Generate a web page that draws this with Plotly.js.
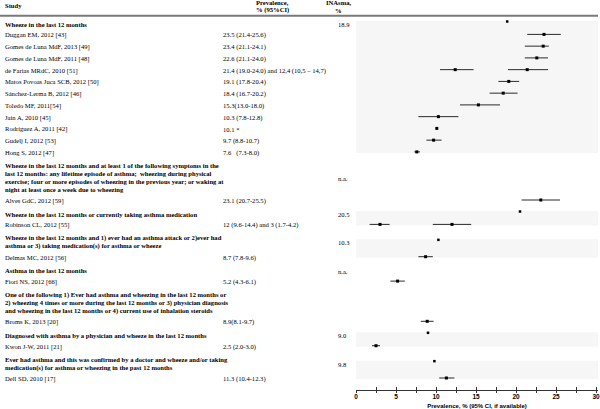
<!DOCTYPE html>
<html><head><meta charset="utf-8">
<script src="https://cdn.plot.ly/plotly-3.0.1.min.js"></script>
<style>html,body{margin:0;padding:0;background:#fff}#chart{width:600px;height:409px}</style>
</head><body><div id="chart"></div>
<script>
// ---------------- DATA ----------------
const sectionTitles = [
  ["Wheeze in the last 12 months"],
  ["Wheeze in the last 12 months and at least 1 of the following symptoms in the",
   "last 12 months: any lifetime episode of asthma;\u00a0 wheezing during physical",
   "exercise; four or more episodes of wheezing in the previous year; or waking at",
   "night at least once a week due to wheezing"],
  ["Wheeze in the last 12 months or currently taking asthma medication"],
  ["Wheeze in the last 12 months and 1) ever had an asthma attack or 2)ever had",
   "asthma or 3) taking medication(s) for asthma or wheeze"],
  ["Asthma in the last 12 months"],
  ["One of the following 1) Ever had asthma and wheezing in the last 12 months or",
   "2) wheezing 4 times or more during the last 12 months or 3) physician diagnosis",
   "and wheezing in the last 12 months or 4) current use of inhalation steroids"],
  ["Diagnosed with asthma by a physician and wheeze in the last 12 months"],
  ["Ever had asthma and this was confirmed by a doctor and wheeze and/or taking",
   "medication(s) for asthma or wheezing in the past 12 months"]
];
const inasmaText  = ["18.9", "n.a.", "20.5", "10.3", "n.a.", "", "9.0", "9.8"];
const inasmaValue = [18.9, null, 20.5, 10.3, null, null, 9.0, 9.8];

const studySection = [0,0,0,0,0,0,0,0,0,0,0,1,2,3,4,5,6,7];
const studies = [
  "Duggan EM, 2012 [43]", "Gomes de Luna MdF, 2013 [49]", "Gomes de Luna MdF, 2011 [48]",
  "de Farias MRdC, 2010 [51]", "Matos Povoas Juca SCB, 2012 [50]", "Sánchez-Lerma B, 2012 [46]",
  "Toledo MF, 2011[54]", "Jain A, 2010 [45]", "Rodriguez A, 2011 [42]", "Gudelj I, 2012 [53]",
  "Hong S, 2012 [47]", "Alves GdC, 2012 [59]", "Robinson CL, 2012 [55]", "Delmas MC, 2012 [56]",
  "Fiori NS, 2012 [66]", "Broms K, 2013 [20]", "Kwon J-W, 2011 [21]", "Dell SD, 2010 [17]"
];
const prevalenceText = [
  "23.5 (21.4-25.6)", "23.4 (21.1-24.1)", "22.6 (21.1-24.0)",
  "21.4 (19.0-24.0) and 12,4 (10,5 \u2013 14,7)", "19.1 (17.8-20.4)", "18.4 (16.7-20.2)",
  "15.3(13.0-18.0)", "10.3 (7.8-12.8)", "10.1 *", "9.7 (8.8-10.7)",
  "7.6\u00a0\u00a0\u00a0(7.3-8.0)", "23.1 (20.7-25.5)", "12 (9.6-14.4) and 3 (1.7-4.2)",
  "8.7 (7.8-9.6)", "5.2 (4.3-6.1)", "8.9(8.1-9.7)", "2.5 (2.0-3.0)", "11.3 (10.4-12.3)"
];
const estimate = [23.5, 23.4, 22.6, 21.4, 19.1, 18.4, 15.3, 10.3, 10.1, 9.7, 7.6, 23.1, 12, 8.7, 5.2, 8.9, 2.5, 11.3];
const ciLow    = [21.4, 21.1, 21.1, 19.0, 17.8, 16.7, 13.0, 7.8, null, 8.8, 7.3, 20.7, 9.6, 7.8, 4.3, 8.1, 2.0, 10.4];
const ciHigh   = [25.6, 24.1, 24.0, 24.0, 20.4, 20.2, 18.0, 12.8, null, 10.7, 8.0, 25.5, 14.4, 9.6, 6.1, 9.7, 3.0, 12.3];
const estimate2 = [null,null,null,12.4,null,null,null,null,null,null,null,null,3,null,null,null,null,null];
const ciLow2    = [null,null,null,10.5,null,null,null,null,null,null,null,null,1.7,null,null,null,null,null];
const ciHigh2   = [null,null,null,14.7,null,null,null,null,null,null,null,null,4.2,null,null,null,null,null];
const xTicks = [0, 2.5, 5, 7.5, 10, 12.5, 15, 17.5, 20, 22.5, 25, 27.5, 30];
const xTickLabels = ["0","","5","","10","","15","","20","","25","","30"];

// ---------------- LAYOUT GEOMETRY ----------------
const W = 600, H = 409, AXIS_PX = 390, X0 = 356, X1 = 598, XMAX = 30.25;
const FIRST = 24, LINE = 7.9, GAP_HS = 11.4, ROW = 11.75, GAP_SH = 13;
const px2py = p => 1 - p / H;
const px2px = p => p / W;

const headerY = [], inasmaTextY = [], inasmaPtY = [], studyY = new Array(studies.length), bands = [];
let y = FIRST;
sectionTitles.forEach((lines, s) => {
  const ys = lines.map((_, i) => y + i * LINE);
  headerY.push(ys);
  const c = (ys[0] + ys[ys.length - 1]) / 2;
  inasmaTextY.push(c + 0.5);
  inasmaPtY.push(c - 2.5);
  y = ys[ys.length - 1] + GAP_HS;
  let last = y;
  studySection.forEach((sec, i) => { if (sec === s) { studyY[i] = y; last = y; y += ROW; } });
  if (inasmaValue[s] !== null) bands.push([c - 3, last]);
  y = last + GAP_SH;
});
const pointY = studyY.map(v => v - 1);

// ---------------- TRACES ----------------
const serif = "Liberation Serif, Times New Roman, serif";
const traces = [];
traces.push({
  type: "scatter", mode: "markers", x: estimate, y: pointY,
  marker: {symbol: "square", size: 3, color: "#000"},
  error_x: {type: "data", symmetric: false,
    array: estimate.map((e, i) => ciHigh[i] == null ? 0 : ciHigh[i] - e),
    arrayminus: estimate.map((e, i) => ciLow[i] == null ? 0 : e - ciLow[i]),
    width: 0, thickness: 1, color: "#2a2a2a"},
  showlegend: false
});
const idx2 = estimate2.map((v, i) => v == null ? -1 : i).filter(i => i >= 0);
traces.push({
  type: "scatter", mode: "markers", x: idx2.map(i => estimate2[i]), y: idx2.map(i => pointY[i]),
  marker: {symbol: "square", size: 3, color: "#000"},
  error_x: {type: "data", symmetric: false,
    array: idx2.map(i => ciHigh2[i] - estimate2[i]),
    arrayminus: idx2.map(i => estimate2[i] - ciLow2[i]),
    width: 0, thickness: 1, color: "#2a2a2a"},
  showlegend: false
});
const idxI = inasmaValue.map((v, i) => v == null ? -1 : i).filter(i => i >= 0);
traces.push({
  type: "scatter", mode: "markers", x: idxI.map(i => inasmaValue[i]), y: idxI.map(i => inasmaPtY[i]),
  marker: {symbol: "square", size: 2.5, color: "#000"}, showlegend: false
});
traces.push({type: "scatter", x: [null], y: [null], xaxis: "x2", yaxis: "y", showlegend: false});

// ---------------- ANNOTATIONS ----------------
const ann = [];
const txt = (text, xp, yp, align) => ann.push({
  text, xref: "paper", yref: "paper", x: px2px(xp), y: px2py(yp),
  xanchor: align, yanchor: "middle", showarrow: false,
  font: {family: serif, size: 6.6, color: "#000"}
});
txt("<b>Study</b>", 3, 6, "left");
txt("<b>Prevalence,</b>", 272, 3, "center");
txt("<b>% (95%CI)</b>", 272, 10, "center");
txt("<b>INAsma,</b>", 339, 3, "center");
txt("<b>%</b>", 339, 10, "center");
sectionTitles.forEach((lines, s) => {
  lines.forEach((l, k) => txt("<b>" + l + "</b>", 3, headerY[s][k], "left"));
  if (inasmaText[s]) txt(inasmaText[s], 336, inasmaTextY[s], "left");
});
studies.forEach((st, i) => {
  txt(st, 3, studyY[i], "left");
  txt(prevalenceText[i], 221, studyY[i], "left");
});

// ---------------- SHAPES ----------------
const shapes = bands.map(b => ({
  type: "rect", xref: "paper", yref: "y", x0: px2px(X0), x1: px2px(X1), y0: b[0], y1: b[1],
  fillcolor: "#f6f6f6", line: {width: 0}, layer: "below"
}));
shapes.push({type: "line", xref: "paper", yref: "y", x0: 0, x1: px2px(X1), y0: 15.7, y1: 15.7,
  line: {color: "#7a7a7a", width: 2}});

const axisCommon = {
  domain: [px2px(X0), px2px(X1)], range: [0, XMAX], showgrid: false, zeroline: false,
  tickmode: "array", tickvals: xTicks, ticktext: xTickLabels
};
const layout = {
  width: W, height: H, margin: {l: 0, r: 0, t: 0, b: 0},
  paper_bgcolor: "#fff", plot_bgcolor: "rgba(0,0,0,0)", showlegend: false, hovermode: false,
  xaxis: Object.assign({}, axisCommon, {
    anchor: "y", showline: true, linecolor: "#333", linewidth: 1,
    ticks: "inside", ticklen: 3, tickwidth: 1, tickcolor: "#333",
    tickfont: {family: "Liberation Sans, Arial, sans-serif", size: 6.5, weight: "bold", color: "#000"},
    title: {text: "<b>Prevalence, % (95% CI, if available)</b>", standoff: 5,
      font: {family: "Liberation Sans, Arial, sans-serif", size: 6, color: "#000"}}
  }),
  xaxis2: Object.assign({}, axisCommon, {
    overlaying: "x", anchor: "y", side: "bottom", showline: false,
    ticks: "outside", ticklen: 2, tickwidth: 1, tickcolor: "#333", showticklabels: false
  }),
  yaxis: {domain: [px2py(AXIS_PX), 1], range: [AXIS_PX, 0], visible: false,
    showgrid: false, zeroline: false, fixedrange: true},
  annotations: ann, shapes
};
Plotly.newPlot("chart", traces, layout, {staticPlot: true, displayModeBar: false});
</script>
</body></html>
